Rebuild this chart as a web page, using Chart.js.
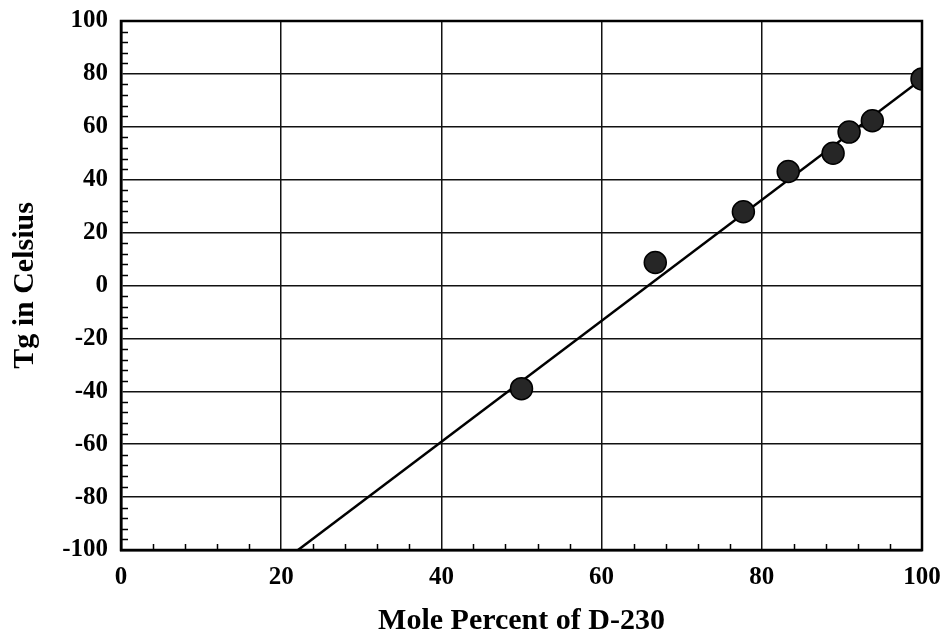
<!DOCTYPE html>
<html>
<head>
<meta charset="utf-8">
<title>Tg vs Mole Percent of D-230</title>
<script src="https://cdn.jsdelivr.net/npm/chart.js@4/dist/chart.umd.min.js"></script>
<style>
    body { margin: 0; background: #fff; }
    canvas { display: block; }
</style>
</head>
<body>
<canvas id="grafica_tg" width="943" height="639"></canvas>
<script>
'use strict';

// datos
var molePct = [50, 66.7, 77.7, 83.3, 88.9, 90.9, 93.8, 100];
var tgC     = [-39, 8.7, 27.9, 43.1, 50, 58, 62.3, 78.1];

// recta de ajuste (extremos)
var ajusteX = [22.1, 100];
var ajusteY = [-100, 78.1];

var puntos = molePct.map(function (x, i) { return { x : x, y : tgC[i] }; });
var recta  = ajusteX.map(function (x, i) { return { x : x, y : ajusteY[i] }; });

var fuente     = 'Liberation Serif, Times New Roman, serif';
var pasoMayor  = 20,
    pasoMenor  = 4;

// marcas menores hacia dentro en los ejes izquierdo e inferior
var marcasMenores = {
    id : 'marcasMenores',
    afterDraw : function (chart) {
        var ctx  = chart.ctx,
            area = chart.chartArea,
            sx   = chart.scales.x,
            sy   = chart.scales.y,
            v, p;
        ctx.save();
        ctx.strokeStyle = '#000';
        ctx.lineWidth   = 1.5;
        ctx.beginPath();
        for (v = sy.min; v <= sy.max; v += pasoMenor) {
            if (v % pasoMayor === 0) continue;
            p = Math.round(sy.getPixelForValue(v)) + 0.5;
            ctx.moveTo(area.left, p);
            ctx.lineTo(area.left + 7, p);
        }
        for (v = sx.min; v <= sx.max; v += pasoMenor) {
            if (v % pasoMayor === 0) continue;
            p = Math.round(sx.getPixelForValue(v)) + 0.5;
            ctx.moveTo(p, area.bottom);
            ctx.lineTo(p, area.bottom - 6);
        }
        ctx.stroke();
        // marco del grafico
        ctx.lineWidth = 2.5;
        ctx.strokeRect(area.left, area.top, area.right - area.left, area.bottom - area.top);
        ctx.restore();
    }
};

var datosTg = {
    type : 'scatter',

    data : {
        datasets : [{
            label           : 'Tg',
            data            : puntos,
            pointRadius     : 11,
            pointHoverRadius: 11,
            backgroundColor : '#262626',
            borderColor     : '#000',
            borderWidth     : 1.5,
            order           : 1
        }, {
            label       : 'Ajuste',
            type        : 'line',
            data        : recta,
            borderColor : '#000',
            borderWidth : 2.5,
            pointRadius : 0,
            fill        : false,
            order       : 2
        }]
    },

    options : {
        responsive : false,
        animation  : false,
        layout     : { padding : { top : 21, right : 21, left : 0, bottom : 0 } },
        plugins    : {
            legend  : { display : false },
            tooltip : { enabled : false }
        },
        scales : {
            x : {
                type : 'linear',
                min  : 0,
                max  : 100,
                afterFit : function (s) {
                    s.height = 89;
                    s.paddingLeft = 0;
                    s.paddingRight = 0;
                },
                ticks : {
                    stepSize    : pasoMayor,
                    maxRotation : 0,
                    padding     : 13,
                    color       : '#000',
                    font        : { family : fuente, size : 25, weight : 'bold' }
                },
                grid   : { color : '#111', lineWidth : 1.5, drawTicks : false },
                border : { display : true, color : '#000', width : 2.5 },
                title  : {
                    display : true,
                    text    : 'Mole Percent of D-230',
                    color   : '#000',
                    font    : { family : fuente, size : 30, weight : 'bold' },
                    padding : { top : 0, bottom : 0 }
                }
            },
            y : {
                type : 'linear',
                min  : -100,
                max  : 100,
                afterFit : function (s) {
                    s.width = 121;
                    s.paddingTop = 0;
                    s.paddingBottom = 0;
                },
                ticks : {
                    stepSize : pasoMayor,
                    padding  : 13,
                    color    : '#000',
                    font     : { family : fuente, size : 25, weight : 'bold' }
                },
                grid   : { color : '#111', lineWidth : 1.5, drawTicks : false },
                border : { display : true, color : '#000', width : 2.5 },
                title  : {
                    display : true,
                    text    : 'Tg in Celsius',
                    color   : '#000',
                    font    : { family : fuente, size : 30, weight : 'bold' },
                    padding : { top : 7, bottom : 0 }
                }
            }
        }
    },

    plugins : [marcasMenores]
};

var canvasTg = document.getElementById('grafica_tg').getContext('2d');
window.graficaTg = new Chart(canvasTg, datosTg);
</script>
</body>
</html>
